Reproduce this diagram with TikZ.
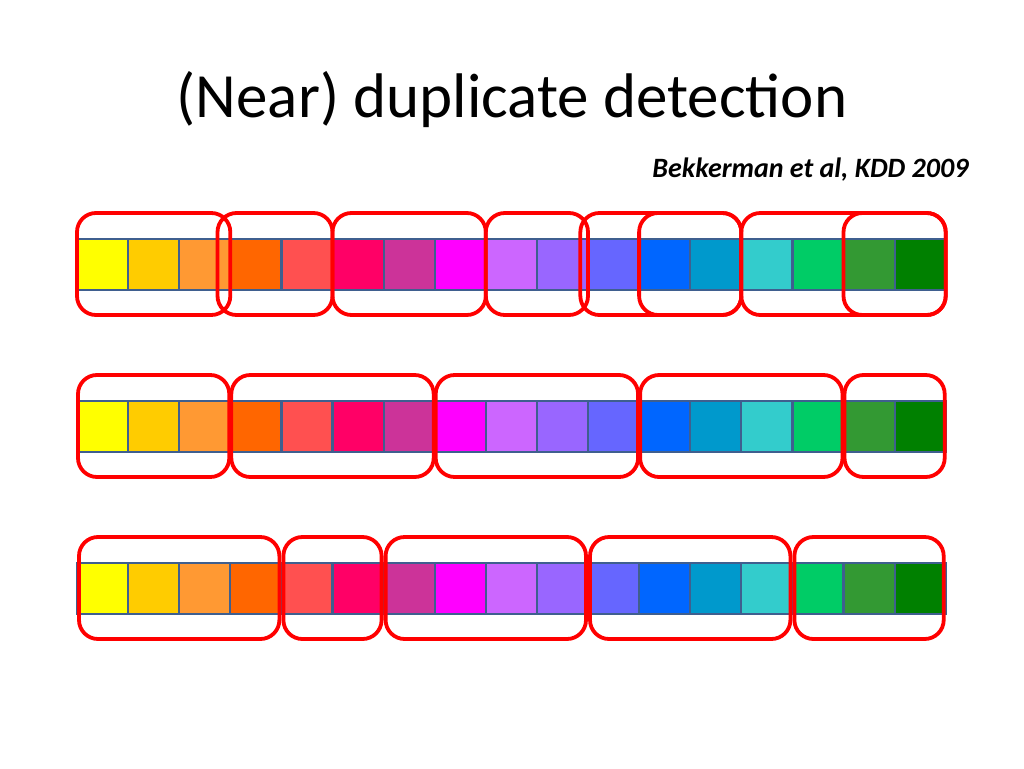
\documentclass[tikz,border=0pt]{standalone}
\usepackage{fontspec}
\setmainfont{Carlito}
\usetikzlibrary{positioning}
\definecolor{cellline}{HTML}{3F5F8F}
\definecolor{boxred}{HTML}{FF0000}
\tikzset{
  cell/.style={draw=cellline, line width=2.2pt, minimum width=51.1pt, minimum height=51pt, inner sep=0pt, outer sep=0pt},
  group/.style={draw=boxred, line width=3.8pt, rounded corners=19pt},
}
\begin{document}
\begin{tikzpicture}[x=1pt,y=-1pt]
    \useasboundingbox (0,0) rectangle (1024,768);
    \node[font=\fontsize{63}{72}\selectfont] (title) at (512,100) {(Near) duplicate detection};
    \node[font=\fontsize{28}{32}\selectfont\bfseries\itshape, anchor=east] (ref) at (972,170) {Bekkerman et al, KDD 2009};

    % three rows of colour cells
    \foreach \r/\yy in {1/264.5, 2/426.5, 3/588.5}{
        \foreach \c [count=\i from 0] in {FFFF00,FFCC00,FF9933,FF6600,FF5050,FF0066,CC3399,FF00FF,CC66FF,9966FF,6666FF,0066FF,0099CC,33CCCC,00CC66,339933,008000}{
            \definecolor{cc}{HTML}{\c}
            \node[cell, fill=cc, anchor=west] (c\r-\i) at ({77+51.1*\i},\yy) {};
        }
    }

    % groups, row 1
    \foreach \a/\b in {2.75/5, 0/3, 5/8, 9.85/13, 11/13, 8/10, 13/17, 15/17}
        \draw[group] ({77+51.1*\a},213) rectangle ({77+51.1*\b},315);
    % groups, row 2
    \foreach \a/\b in {0/3, 3/7, 7/11, 11/15, 15/17}
        \draw[group] ({77+51.1*\a+1},375) rectangle ({77+51.1*\b-1},477);
    % groups, row 3
    \foreach \a/\b in {0/4, 4/6, 6/10, 10/14, 14/17}
        \draw[group] ({77+51.1*\a+2},537) rectangle ({77+51.1*\b-2},639);
\end{tikzpicture}
\end{document}
